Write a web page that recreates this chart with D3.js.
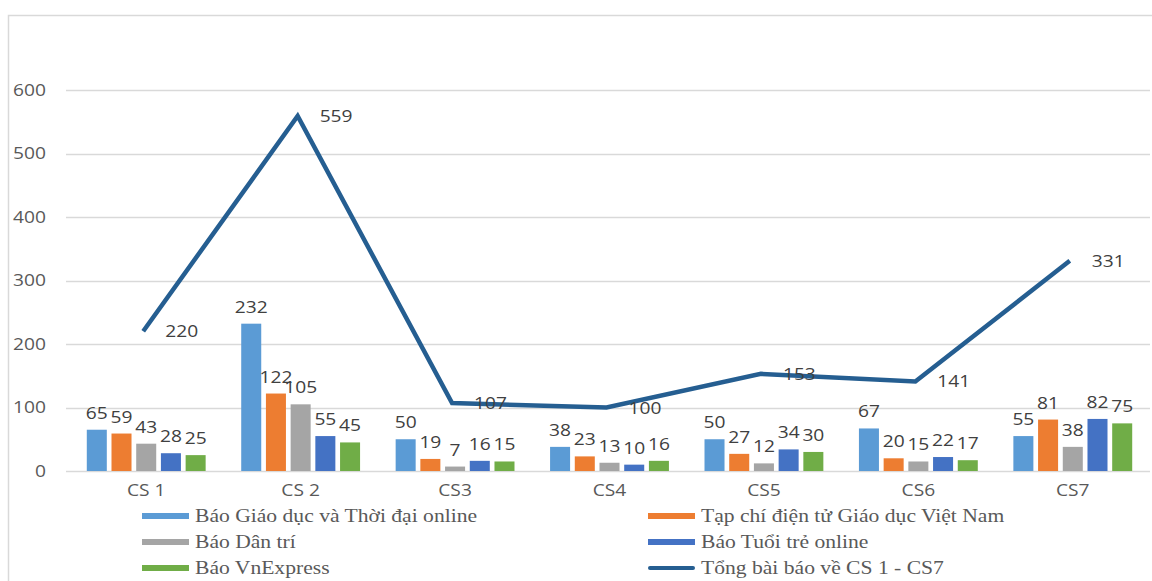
<!DOCTYPE html>
<html>
<head>
<meta charset="utf-8">
<script src="https://cdn.jsdelivr.net/npm/d3@7"></script>
<style>
  body { margin: 0; background: #fff; }
  svg text { font-family: "Open Sans", "Liberation Sans", sans-serif; }
</style>
</head>
<body>
<script>
var categories = ["CS 1", "CS 2", "CS3", "CS4", "CS5", "CS6", "CS7"];
var seriesNames = [
  "Báo Giáo dục và Thời đại online",
  "Tạp chí  điện tử Giáo dục Việt Nam",
  "Báo Dân trí",
  "Báo Tuổi trẻ online",
  "Báo VnExpress"
];
var giaoDucThoiDai = [65, 232, 50, 38, 50, 67, 55];
var giaoDucVietNam = [59, 122, 19, 23, 27, 20, 81];
var danTri = [43, 105, 7, 13, 12, 15, 38];
var tuoiTre = [28, 55, 16, 10, 34, 22, 82];
var vnExpress = [25, 45, 15, 16, 30, 17, 75];
var totalName = "Tổng bài báo về CS 1 - CS7";
var totals = [220, 559, 107, 100, 153, 141, 331];
var yTicks = [0, 100, 200, 300, 400, 500, 600];

var colors = ["#5B9BD5", "#ED7D31", "#A5A5A5", "#4472C4", "#70AD47"];
var lineColor = "#255E91";
var series = [giaoDucThoiDai, giaoDucVietNam, danTri, tuoiTre, vnExpress];

var W = 1152, H = 581,
  stretch = 1.2; // the source picture is stretched sideways

var svg = d3.select("body").append("svg")
  .attr("width", W).attr("height", H);

// chart frame
svg.append("rect")
  .attr("x", 8.5).attr("y", 15.5)
  .attr("width", W + 10).attr("height", H + 10)
  .attr("fill", "none").attr("stroke", "#d9d9d9").attr("stroke-width", 1.5);

var x = d3.scaleBand().domain(categories).range([69, 1150]).paddingInner(0).paddingOuter(0);
var y = d3.scaleLinear().domain([0, 600]).range([471, 90]);
var xs = d3.scaleBand().domain(d3.range(series.length)).range([0, x.bandwidth()])
  .paddingInner(0.19).paddingOuter(0.72);

// gridlines
svg.append("g").selectAll("line")
  .data(yTicks)
  .enter().append("line")
  .attr("x1", 66).attr("x2", 1150)
  .attr("y1", (d) => Math.round(y(d)) + 0.5)
  .attr("y2", (d) => Math.round(y(d)) + 0.5)
  .attr("stroke", "#d9d9d9").attr("stroke-width", 1.5);

// y axis labels
var yAxis = svg.append("g").attr("transform", "translate(46,0)")
  .call(d3.axisLeft(y).tickValues(yTicks).tickSize(0).tickPadding(0));
yAxis.select(".domain").remove();
yAxis.selectAll("text").attr("fill", "#595959").attr("font-size", 16)
  .attr("transform", "scale(" + stretch + ",1)");

// x axis labels
var xAxis = svg.append("g").attr("transform", "translate(0,485)")
  .call(d3.axisBottom(x).tickSize(0).tickPadding(0));
xAxis.select(".domain").remove();
xAxis.selectAll("text").attr("fill", "#595959").attr("font-size", 16)
  .attr("transform", "scale(" + stretch + ",1)");

// bars
series.forEach((vals, si) => {
  var g = svg.append("g");
  g.selectAll("rect")
    .data(vals)
    .enter().append("rect")
    .attr("x", (d, i) => x(categories[i]) + xs(si))
    .attr("width", xs.bandwidth())
    .attr("y", (d) => y(d))
    .attr("height", (d) => y(0) - y(d))
    .attr("fill", colors[si]);
  g.selectAll("text")
    .data(vals)
    .enter().append("text")
    .attr("transform", (d, i) => "translate(" + (x(categories[i]) + xs(si) + xs.bandwidth() / 2) +
          "," + (y(d) - 11) + ") scale(" + stretch + ",1)")
    .attr("text-anchor", "middle")
    .attr("fill", "#404040").attr("font-size", 16)
    .text((d) => d);
});

// total line
var line = d3.line()
  .x((d, i) => x(categories[i]) + x.bandwidth() / 2 - 3)
  .y((d) => y(d));
svg.append("path")
  .datum(totals)
  .attr("d", line)
  .attr("fill", "none").attr("stroke", lineColor).attr("stroke-width", 4.5)
  .attr("stroke-linejoin", "miter");

svg.append("g").selectAll("text")
  .data(totals)
  .enter().append("text")
  .attr("transform", (d, i) => "translate(" + (x(categories[i]) + x.bandwidth() / 2 + 19) +
        "," + (y(d) + 6) + ") scale(" + stretch + ",1)")
  .attr("fill", "#404040").attr("font-size", 16)
  .text((d) => d);

// legend
var legendItems = [
  {name: seriesNames[0], color: colors[0], type: "bar"},
  {name: seriesNames[1], color: colors[1], type: "bar"},
  {name: seriesNames[2], color: colors[2], type: "bar"},
  {name: seriesNames[3], color: colors[3], type: "bar"},
  {name: seriesNames[4], color: colors[4], type: "bar"},
  {name: totalName, color: lineColor, type: "line"}
];
var legend = svg.append("g").selectAll("g")
  .data(legendItems)
  .enter().append("g")
  .attr("transform", (d, i) => "translate(" + (i % 2 == 0 ? 142 : 648) + "," + (516 + Math.floor(i / 2) * 26) + ")");
legend.append("rect")
  .attr("x", 0).attr("y", (d) => d.type == "bar" ? -3 : -2)
  .attr("width", 47)
  .attr("height", (d) => d.type == "bar" ? 6 : 4)
  .attr("rx", (d) => d.type == "bar" ? 0 : 2)
  .attr("fill", (d) => d.color);
legend.append("text")
  .attr("transform", "translate(53,6) scale(" + stretch + ",1)")
  .attr("fill", "#595959").attr("font-size", 18)
  .style("font-family", "'Liberation Serif', serif")
  .text((d) => d.name);
</script>
</body>
</html>
